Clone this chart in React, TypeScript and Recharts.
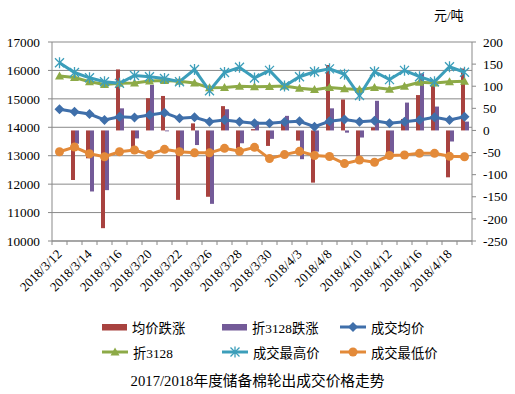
import { ComposedChart, Bar, Line, XAxis, YAxis, CartesianGrid, Legend } from 'recharts';

const dates = [
  '2018/3/12', '2018/3/13', '2018/3/14', '2018/3/15', '2018/3/16', '2018/3/19', '2018/3/20',
  '2018/3/21', '2018/3/22', '2018/3/23', '2018/3/26', '2018/3/27', '2018/3/28', '2018/3/29',
  '2018/3/30', '2018/4/2', '2018/4/3', '2018/4/4', '2018/4/8', '2018/4/9', '2018/4/10',
  '2018/4/11', '2018/4/12', '2018/4/13', '2018/4/16', '2018/4/17', '2018/4/18', '2018/4/19',
];

// 均价跌涨 / 折3128跌涨 (right axis)
const avgChange = [null, -112, -63, -221, 138, -37, 73, 78, -157, 16, -150, 55, -40, 3, -35, 16, -23, -118, 148, 70, -59, 7, -55, 26, 80, 107, -106, 140];
const z3128Change = [null, -30, -138, -135, 50, -18, 103, -2, -52, -33, -166, 48, -29, 20, -19, 33, -65, -48, 50, -5, -16, 67, -52, 63, 129, 54, -25, 20];

// prices (left axis)
const avgPrice = [14632, 14548, 14467, 14256, 14372, 14344, 14431, 14509, 14315, 14351, 14196, 14256, 14196, 14140, 14140, 14185, 14213, 14020, 14213, 14273, 14196, 14231, 14143, 14196, 14256, 14354, 14256, 14372];
const z3128Price = [15803, 15750, 15603, 15504, 15546, 15557, 15627, 15645, 15620, 15557, 15388, 15399, 15441, 15427, 15434, 15451, 15370, 15325, 15399, 15353, 15325, 15399, 15335, 15441, 15585, 15557, 15603, 15620];
const highPrice = [16271, 15926, 15740, 15603, 15546, 15821, 15779, 15715, 15603, 16032, 15283, 15926, 16109, 15733, 16003, 15451, 15779, 15954, 16056, 15866, 15117, 15954, 15676, 16003, 15779, 15603, 16130, 15937];
const lowPrice = [13141, 13306, 13070, 12965, 13141, 13200, 13039, 13225, 13141, 13102, 13102, 13260, 13155, 13295, 12898, 13039, 13155, 13007, 12972, 12722, 12849, 12771, 13007, 13025, 13084, 13084, 12979, 12965];

const leftTicks = [10000, 11000, 12000, 13000, 14000, 15000, 16000, 17000];
const rightTicks = [-250, -200, -150, -100, -50, 0, 50, 100, 150, 200];

const data = dates.map((d, i) => ({
  date: d,
  avgChange: avgChange[i],
  z3128Change: z3128Change[i],
  avgPrice: avgPrice[i],
  z3128Price: z3128Price[i],
  highPrice: highPrice[i],
  lowPrice: lowPrice[i],
}));

const FONT = "'Times New Roman', 'Liberation Serif', 'Noto Sans CJK SC', serif";
const GRID = '#898989';
const RED = '#A8423F';
const PURPLE = '#735A98';
const BLUE = '#3F6FAA';
const GREEN = '#8DAA47';
const CYAN = '#3C9EBA';
const ORANGE = '#E38A39';

type Kind = 'rect' | 'diamond' | 'triangle' | 'star' | 'circle';

const legendItems: { name: string; color: string; kind: Kind }[] = [
  { name: '均价跌涨', color: RED, kind: 'rect' },
  { name: '折3128跌涨', color: PURPLE, kind: 'rect' },
  { name: '成交均价', color: BLUE, kind: 'diamond' },
  { name: '折3128', color: GREEN, kind: 'triangle' },
  { name: '成交最高价', color: CYAN, kind: 'star' },
  { name: '成交最低价', color: ORANGE, kind: 'circle' },
];

function marker(kind: Kind, cx: number, cy: number, color: string, key?: string) {
  if (kind === 'diamond') {
    return <path key={key} d={`M${cx},${cy - 5}L${cx + 5},${cy}L${cx},${cy + 5}L${cx - 5},${cy}Z`} fill={color} />;
  }
  if (kind === 'triangle') {
    return <path key={key} d={`M${cx},${cy - 4.5}L${cx + 4.5},${cy + 3.5}L${cx - 4.5},${cy + 3.5}Z`} fill={color} />;
  }
  if (kind === 'star') {
    return (
      <path
        key={key}
        d={`M${cx - 4.5},${cy - 4.5}L${cx + 4.5},${cy + 4.5}M${cx - 4.5},${cy + 4.5}L${cx + 4.5},${cy - 4.5}M${cx},${cy - 5.5}L${cx},${cy + 5.5}`}
        stroke={color}
        strokeWidth={1.3}
        fill="none"
      />
    );
  }
  if (kind === 'circle') {
    return <circle key={key} cx={cx} cy={cy} r={4.5} fill={color} />;
  }
  return null;
}

const dotFor = (kind: Kind, color: string, name: string) => (p: any) => {
  if (p.cx == null || p.cy == null) return <g key={`${name}-${p.index}`} />;
  return marker(kind, p.cx, p.cy, color, `${name}-${p.index}`);
};

const DateTick = (props: any) => {
  const { x, y, payload } = props;
  const band = 15;
  const idx = payload.index;
  return (
    <g>
      <line x1={x - band / 2} y1={y} x2={x - band / 2} y2={y + 4} stroke={GRID} />
      {idx === dates.length - 1 && <line x1={x + band / 2} y1={y} x2={x + band / 2} y2={y + 4} stroke={GRID} />}
      {idx % 2 === 0 && (
        <text
          x={x + 3}
          y={y + 14}
          transform={`rotate(-45, ${x + 3}, ${y + 14})`}
          textAnchor="end"
          fontSize={13}
          fontFamily={FONT}
          fill="#000"
        >
          {payload.value}
        </text>
      )}
    </g>
  );
};

const renderLegend = () => {
  const cols = [102, 222, 340];
  const rows = [327, 352];
  return (
    <div style={{ position: 'relative', width: 515, height: 50 }}>
      {legendItems.map((it, i) => {
        const left = cols[i % 3];
        const top = rows[Math.floor(i / 3)] - 314 - 10;
        return (
          <div key={i} style={{ position: 'absolute', left, top, height: 20, display: 'flex', alignItems: 'center' }}>
            <svg width={28} height={20}>
              {it.kind === 'rect' ? (
                <rect x={0} y={7} width={25} height={6.5} fill={it.color} />
              ) : (
                <g>
                  <line x1={0} y1={10} x2={26} y2={10} stroke={it.color} strokeWidth={3} />
                  {marker(it.kind, 13, 10, it.color)}
                </g>
              )}
            </svg>
            <span style={{ fontFamily: FONT, fontSize: 13.3, color: '#000', marginLeft: it.kind === 'rect' ? 2 : 3, whiteSpace: 'nowrap' }}>
              {it.name}
            </span>
          </div>
        );
      })}
    </div>
  );
};

export default function App() {
  return (
    <div style={{ position: 'absolute', left: 0, top: 0, width: 515, height: 394, background: '#fff' }}>
      <ComposedChart
        width={515}
        height={394}
        data={data}
        margin={{ top: 42, right: 0, left: 0, bottom: 93 }}
        barGap={0}
        barSize={4}
      >
        <CartesianGrid yAxisId="left" vertical={false} stroke={GRID} />
        <XAxis
          dataKey="date"
          interval={0}
          height={60}
          tickLine={false}
          tickSize={0}
          tickMargin={0}
          stroke={GRID}
          tick={<DateTick />}
        />
        <YAxis
          yAxisId="left"
          domain={[10000, 17000]}
          ticks={leftTicks}
          width={52}
          tickSize={4}
          tickMargin={8}
          stroke={GRID}
          tick={{ fill: '#000', fontSize: 13.3, fontFamily: FONT }}
        />
        <YAxis
          yAxisId="right"
          orientation="right"
          domain={[-250, 200]}
          ticks={rightTicks}
          width={43}
          tickSize={4}
          tickMargin={7}
          stroke={GRID}
          tick={{ fill: '#000', fontSize: 13.3, fontFamily: FONT }}
        />
        <Bar yAxisId="right" dataKey="avgChange" name="均价跌涨" fill={RED} isAnimationActive={false} />
        <Bar yAxisId="right" dataKey="z3128Change" name="折3128跌涨" fill={PURPLE} isAnimationActive={false} />
        <Line yAxisId="left" dataKey="avgPrice" name="成交均价" stroke={BLUE} strokeWidth={3} dot={dotFor('diamond', BLUE, 'a')} activeDot={false} isAnimationActive={false} />
        <Line yAxisId="left" dataKey="z3128Price" name="折3128" stroke={GREEN} strokeWidth={3} dot={dotFor('triangle', GREEN, 'z')} activeDot={false} isAnimationActive={false} />
        <Line yAxisId="left" dataKey="highPrice" name="成交最高价" stroke={CYAN} strokeWidth={3} dot={dotFor('star', CYAN, 'h')} activeDot={false} isAnimationActive={false} />
        <Line yAxisId="left" dataKey="lowPrice" name="成交最低价" stroke={ORANGE} strokeWidth={3} dot={dotFor('circle', ORANGE, 'l')} activeDot={false} isAnimationActive={false} />
        <Legend
          layout="horizontal"
          verticalAlign="middle"
          align="center"
          content={renderLegend}
          wrapperStyle={{ position: 'absolute', top: 314, left: 0, width: 515, height: 50 }}
        />
      </ComposedChart>
      <div style={{ position: 'absolute', left: 434, top: 5, fontFamily: FONT, fontSize: 13, color: '#000' }}>元/吨</div>
      <div
        style={{
          position: 'absolute',
          left: 0,
          width: 515,
          top: 369,
          textAlign: 'center',
          fontFamily: FONT,
          fontSize: 14.7,
          color: '#000',
        }}
      >
        2017/2018年度储备棉轮出成交价格走势
      </div>
    </div>
  );
}
